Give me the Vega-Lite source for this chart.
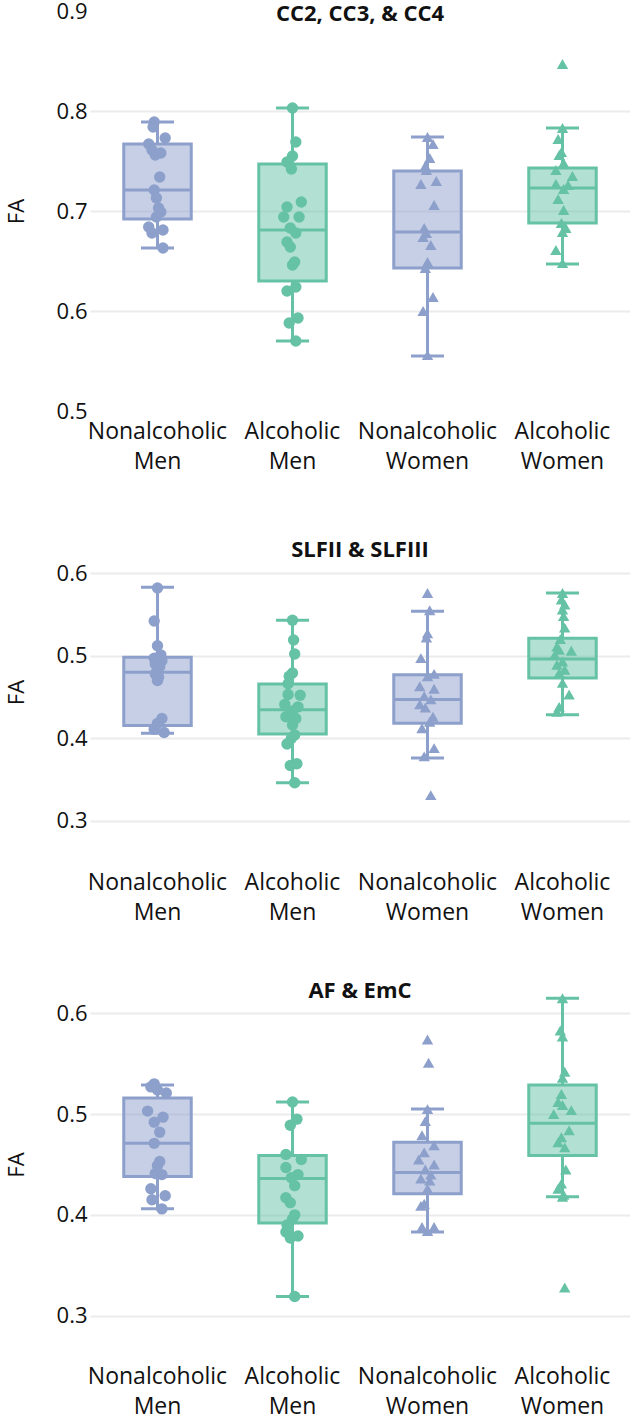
{
  "$schema": "https://vega.github.io/schema/vega-lite/v6.json",
  "background": "white",
  "padding": {"left": 5, "top": 0, "right": 0, "bottom": 12},
  "spacing": 111,
  "bounds": "flush",
  "datasets": {
    "box": [
      {"p": 1, "g": "Nonalcoholic Men", "lo": 0.663, "q1": 0.692, "med": 0.721, "q3": 0.767, "hi": 0.789},
      {"p": 1, "g": "Alcoholic Men", "lo": 0.570, "q1": 0.630, "med": 0.681, "q3": 0.747, "hi": 0.803},
      {"p": 1, "g": "Nonalcoholic Women", "lo": 0.555, "q1": 0.643, "med": 0.679, "q3": 0.740, "hi": 0.774},
      {"p": 1, "g": "Alcoholic Women", "lo": 0.647, "q1": 0.688, "med": 0.723, "q3": 0.743, "hi": 0.783},
      {"p": 2, "g": "Nonalcoholic Men", "lo": 0.406, "q1": 0.4155, "med": 0.480, "q3": 0.498, "hi": 0.583},
      {"p": 2, "g": "Alcoholic Men", "lo": 0.346, "q1": 0.405, "med": 0.4345, "q3": 0.4656, "hi": 0.543},
      {"p": 2, "g": "Nonalcoholic Women", "lo": 0.376, "q1": 0.418, "med": 0.447, "q3": 0.477, "hi": 0.554},
      {"p": 2, "g": "Alcoholic Women", "lo": 0.4285, "q1": 0.473, "med": 0.496, "q3": 0.521, "hi": 0.576},
      {"p": 3, "g": "Nonalcoholic Men", "lo": 0.406, "q1": 0.438, "med": 0.471, "q3": 0.516, "hi": 0.529},
      {"p": 3, "g": "Alcoholic Men", "lo": 0.319, "q1": 0.392, "med": 0.436, "q3": 0.459, "hi": 0.512},
      {"p": 3, "g": "Nonalcoholic Women", "lo": 0.383, "q1": 0.421, "med": 0.442, "q3": 0.472, "hi": 0.505},
      {"p": 3, "g": "Alcoholic Women", "lo": 0.418, "q1": 0.459, "med": 0.491, "q3": 0.529, "hi": 0.615}
    ],
    "pts": [
      {"p":1,"g":"Nonalcoholic Men","fa":0.789,"j":-0.3},{"p":1,"g":"Nonalcoholic Men","fa":0.784,"j":-0.4},{"p":1,"g":"Nonalcoholic Men","fa":0.773,"j":0.7},{"p":1,"g":"Nonalcoholic Men","fa":0.767,"j":-0.8},{"p":1,"g":"Nonalcoholic Men","fa":0.761,"j":-0.5},{"p":1,"g":"Nonalcoholic Men","fa":0.758,"j":0.3},{"p":1,"g":"Nonalcoholic Men","fa":0.756,"j":-0.2},{"p":1,"g":"Nonalcoholic Men","fa":0.734,"j":0.2},{"p":1,"g":"Nonalcoholic Men","fa":0.721,"j":-0.3},{"p":1,"g":"Nonalcoholic Men","fa":0.713,"j":-0.1},{"p":1,"g":"Nonalcoholic Men","fa":0.703,"j":0.1},{"p":1,"g":"Nonalcoholic Men","fa":0.699,"j":0.3},{"p":1,"g":"Nonalcoholic Men","fa":0.694,"j":-0.1},{"p":1,"g":"Nonalcoholic Men","fa":0.684,"j":-0.8},{"p":1,"g":"Nonalcoholic Men","fa":0.681,"j":0.5},{"p":1,"g":"Nonalcoholic Men","fa":0.678,"j":-0.5},{"p":1,"g":"Nonalcoholic Men","fa":0.663,"j":0.5},
      {"p":1,"g":"Alcoholic Men","fa":0.803,"j":0.0},{"p":1,"g":"Alcoholic Men","fa":0.769,"j":0.3},{"p":1,"g":"Alcoholic Men","fa":0.755,"j":0.0},{"p":1,"g":"Alcoholic Men","fa":0.749,"j":-0.5},{"p":1,"g":"Alcoholic Men","fa":0.742,"j":-0.1},{"p":1,"g":"Alcoholic Men","fa":0.709,"j":0.8},{"p":1,"g":"Alcoholic Men","fa":0.704,"j":-0.5},{"p":1,"g":"Alcoholic Men","fa":0.694,"j":-0.8},{"p":1,"g":"Alcoholic Men","fa":0.694,"j":0.6},{"p":1,"g":"Alcoholic Men","fa":0.683,"j":-0.2},{"p":1,"g":"Alcoholic Men","fa":0.678,"j":0.3},{"p":1,"g":"Alcoholic Men","fa":0.669,"j":-0.5},{"p":1,"g":"Alcoholic Men","fa":0.664,"j":-0.2},{"p":1,"g":"Alcoholic Men","fa":0.649,"j":0.2},{"p":1,"g":"Alcoholic Men","fa":0.646,"j":0.0},{"p":1,"g":"Alcoholic Men","fa":0.624,"j":0.3},{"p":1,"g":"Alcoholic Men","fa":0.620,"j":-0.5},{"p":1,"g":"Alcoholic Men","fa":0.593,"j":0.5},{"p":1,"g":"Alcoholic Men","fa":0.588,"j":-0.3},{"p":1,"g":"Alcoholic Men","fa":0.570,"j":0.3},
      {"p":1,"g":"Nonalcoholic Women","fa":0.774,"j":0.0},{"p":1,"g":"Nonalcoholic Women","fa":0.767,"j":0.5},{"p":1,"g":"Nonalcoholic Women","fa":0.753,"j":0.2},{"p":1,"g":"Nonalcoholic Women","fa":0.745,"j":-0.2},{"p":1,"g":"Nonalcoholic Women","fa":0.741,"j":-0.1},{"p":1,"g":"Nonalcoholic Women","fa":0.730,"j":0.8},{"p":1,"g":"Nonalcoholic Women","fa":0.727,"j":-0.6},{"p":1,"g":"Nonalcoholic Women","fa":0.706,"j":0.6},{"p":1,"g":"Nonalcoholic Women","fa":0.683,"j":-0.3},{"p":1,"g":"Nonalcoholic Women","fa":0.678,"j":-0.1},{"p":1,"g":"Nonalcoholic Women","fa":0.674,"j":-0.4},{"p":1,"g":"Nonalcoholic Women","fa":0.666,"j":0.3},{"p":1,"g":"Nonalcoholic Women","fa":0.649,"j":0.0},{"p":1,"g":"Nonalcoholic Women","fa":0.643,"j":-0.2},{"p":1,"g":"Nonalcoholic Women","fa":0.614,"j":0.5},{"p":1,"g":"Nonalcoholic Women","fa":0.600,"j":-0.4},{"p":1,"g":"Nonalcoholic Women","fa":0.556,"j":0.0},
      {"p":1,"g":"Alcoholic Women","fa":0.847,"j":0.0},{"p":1,"g":"Alcoholic Women","fa":0.783,"j":0.0},{"p":1,"g":"Alcoholic Women","fa":0.772,"j":-0.4},{"p":1,"g":"Alcoholic Women","fa":0.759,"j":-0.1},{"p":1,"g":"Alcoholic Women","fa":0.756,"j":-0.3},{"p":1,"g":"Alcoholic Women","fa":0.748,"j":0.1},{"p":1,"g":"Alcoholic Women","fa":0.741,"j":-0.6},{"p":1,"g":"Alcoholic Women","fa":0.735,"j":0.9},{"p":1,"g":"Alcoholic Women","fa":0.727,"j":-0.6},{"p":1,"g":"Alcoholic Women","fa":0.726,"j":0.5},{"p":1,"g":"Alcoholic Women","fa":0.722,"j":0.1},{"p":1,"g":"Alcoholic Women","fa":0.712,"j":-0.4},{"p":1,"g":"Alcoholic Women","fa":0.701,"j":0.1},{"p":1,"g":"Alcoholic Women","fa":0.688,"j":-0.1},{"p":1,"g":"Alcoholic Women","fa":0.683,"j":0.3},{"p":1,"g":"Alcoholic Women","fa":0.679,"j":0.0},{"p":1,"g":"Alcoholic Women","fa":0.661,"j":-0.6},{"p":1,"g":"Alcoholic Women","fa":0.648,"j":0.0},
      {"p":2,"g":"Nonalcoholic Men","fa":0.582,"j":0.0},{"p":2,"g":"Nonalcoholic Men","fa":0.542,"j":-0.3},{"p":2,"g":"Nonalcoholic Men","fa":0.512,"j":0.0},{"p":2,"g":"Nonalcoholic Men","fa":0.501,"j":0.3},{"p":2,"g":"Nonalcoholic Men","fa":0.497,"j":-0.3},{"p":2,"g":"Nonalcoholic Men","fa":0.494,"j":0.4},{"p":2,"g":"Nonalcoholic Men","fa":0.490,"j":-0.2},{"p":2,"g":"Nonalcoholic Men","fa":0.487,"j":0.2},{"p":2,"g":"Nonalcoholic Men","fa":0.483,"j":0.0},{"p":2,"g":"Nonalcoholic Men","fa":0.478,"j":-0.2},{"p":2,"g":"Nonalcoholic Men","fa":0.474,"j":0.1},{"p":2,"g":"Nonalcoholic Men","fa":0.470,"j":0.0},{"p":2,"g":"Nonalcoholic Men","fa":0.424,"j":0.4},{"p":2,"g":"Nonalcoholic Men","fa":0.418,"j":0.0},{"p":2,"g":"Nonalcoholic Men","fa":0.411,"j":-0.3},{"p":2,"g":"Nonalcoholic Men","fa":0.407,"j":0.6},
      {"p":2,"g":"Alcoholic Men","fa":0.543,"j":0.0},{"p":2,"g":"Alcoholic Men","fa":0.519,"j":0.1},{"p":2,"g":"Alcoholic Men","fa":0.502,"j":0.2},{"p":2,"g":"Alcoholic Men","fa":0.479,"j":0.0},{"p":2,"g":"Alcoholic Men","fa":0.475,"j":-0.3},{"p":2,"g":"Alcoholic Men","fa":0.466,"j":-0.4},{"p":2,"g":"Alcoholic Men","fa":0.453,"j":-0.4},{"p":2,"g":"Alcoholic Men","fa":0.452,"j":0.7},{"p":2,"g":"Alcoholic Men","fa":0.441,"j":-0.7},{"p":2,"g":"Alcoholic Men","fa":0.438,"j":0.5},{"p":2,"g":"Alcoholic Men","fa":0.433,"j":0.0},{"p":2,"g":"Alcoholic Men","fa":0.426,"j":-0.6},{"p":2,"g":"Alcoholic Men","fa":0.424,"j":0.3},{"p":2,"g":"Alcoholic Men","fa":0.416,"j":0.0},{"p":2,"g":"Alcoholic Men","fa":0.404,"j":0.2},{"p":2,"g":"Alcoholic Men","fa":0.400,"j":-0.1},{"p":2,"g":"Alcoholic Men","fa":0.393,"j":-0.5},{"p":2,"g":"Alcoholic Men","fa":0.369,"j":0.4},{"p":2,"g":"Alcoholic Men","fa":0.367,"j":-0.2},{"p":2,"g":"Alcoholic Men","fa":0.346,"j":0.2},
      {"p":2,"g":"Nonalcoholic Women","fa":0.576,"j":0.0},{"p":2,"g":"Nonalcoholic Women","fa":0.555,"j":0.2},{"p":2,"g":"Nonalcoholic Women","fa":0.527,"j":0.0},{"p":2,"g":"Nonalcoholic Women","fa":0.522,"j":-0.1},{"p":2,"g":"Nonalcoholic Women","fa":0.497,"j":-0.6},{"p":2,"g":"Nonalcoholic Women","fa":0.478,"j":0.6},{"p":2,"g":"Nonalcoholic Women","fa":0.475,"j":0.0},{"p":2,"g":"Nonalcoholic Women","fa":0.463,"j":-0.7},{"p":2,"g":"Nonalcoholic Women","fa":0.460,"j":0.6},{"p":2,"g":"Nonalcoholic Women","fa":0.451,"j":-0.3},{"p":2,"g":"Nonalcoholic Women","fa":0.447,"j":0.3},{"p":2,"g":"Nonalcoholic Women","fa":0.441,"j":-0.7},{"p":2,"g":"Nonalcoholic Women","fa":0.437,"j":-0.2},{"p":2,"g":"Nonalcoholic Women","fa":0.426,"j":0.5},{"p":2,"g":"Nonalcoholic Women","fa":0.420,"j":0.2},{"p":2,"g":"Nonalcoholic Women","fa":0.412,"j":-0.5},{"p":2,"g":"Nonalcoholic Women","fa":0.388,"j":0.6},{"p":2,"g":"Nonalcoholic Women","fa":0.378,"j":-0.3},{"p":2,"g":"Nonalcoholic Women","fa":0.331,"j":0.3},
      {"p":2,"g":"Alcoholic Women","fa":0.576,"j":0.0},{"p":2,"g":"Alcoholic Women","fa":0.568,"j":-0.1},{"p":2,"g":"Alcoholic Women","fa":0.562,"j":0.2},{"p":2,"g":"Alcoholic Women","fa":0.556,"j":0.0},{"p":2,"g":"Alcoholic Women","fa":0.548,"j":0.1},{"p":2,"g":"Alcoholic Women","fa":0.534,"j":0.2},{"p":2,"g":"Alcoholic Women","fa":0.520,"j":-0.2},{"p":2,"g":"Alcoholic Women","fa":0.511,"j":-0.5},{"p":2,"g":"Alcoholic Women","fa":0.507,"j":-0.3},{"p":2,"g":"Alcoholic Women","fa":0.506,"j":0.8},{"p":2,"g":"Alcoholic Women","fa":0.501,"j":-0.7},{"p":2,"g":"Alcoholic Women","fa":0.493,"j":0.0},{"p":2,"g":"Alcoholic Women","fa":0.489,"j":-0.5},{"p":2,"g":"Alcoholic Women","fa":0.483,"j":0.2},{"p":2,"g":"Alcoholic Women","fa":0.479,"j":-0.3},{"p":2,"g":"Alcoholic Women","fa":0.467,"j":0.0},{"p":2,"g":"Alcoholic Women","fa":0.453,"j":0.6},{"p":2,"g":"Alcoholic Women","fa":0.438,"j":-0.3},{"p":2,"g":"Alcoholic Women","fa":0.432,"j":-0.5},
      {"p":3,"g":"Nonalcoholic Men","fa":0.530,"j":-0.3},{"p":3,"g":"Nonalcoholic Men","fa":0.527,"j":-0.6},{"p":3,"g":"Nonalcoholic Men","fa":0.524,"j":0.0},{"p":3,"g":"Nonalcoholic Men","fa":0.521,"j":0.8},{"p":3,"g":"Nonalcoholic Men","fa":0.503,"j":-0.9},{"p":3,"g":"Nonalcoholic Men","fa":0.497,"j":0.5},{"p":3,"g":"Nonalcoholic Men","fa":0.492,"j":-0.3},{"p":3,"g":"Nonalcoholic Men","fa":0.482,"j":0.2},{"p":3,"g":"Nonalcoholic Men","fa":0.471,"j":-0.3},{"p":3,"g":"Nonalcoholic Men","fa":0.453,"j":0.2},{"p":3,"g":"Nonalcoholic Men","fa":0.449,"j":0.0},{"p":3,"g":"Nonalcoholic Men","fa":0.441,"j":-0.2},{"p":3,"g":"Nonalcoholic Men","fa":0.440,"j":0.4},{"p":3,"g":"Nonalcoholic Men","fa":0.426,"j":-0.6},{"p":3,"g":"Nonalcoholic Men","fa":0.419,"j":0.7},{"p":3,"g":"Nonalcoholic Men","fa":0.415,"j":-0.5},{"p":3,"g":"Nonalcoholic Men","fa":0.406,"j":0.4},
      {"p":3,"g":"Alcoholic Men","fa":0.512,"j":0.0},{"p":3,"g":"Alcoholic Men","fa":0.495,"j":0.4},{"p":3,"g":"Alcoholic Men","fa":0.489,"j":-0.2},{"p":3,"g":"Alcoholic Men","fa":0.460,"j":-0.6},{"p":3,"g":"Alcoholic Men","fa":0.455,"j":0.8},{"p":3,"g":"Alcoholic Men","fa":0.447,"j":-0.6},{"p":3,"g":"Alcoholic Men","fa":0.440,"j":0.5},{"p":3,"g":"Alcoholic Men","fa":0.437,"j":-0.1},{"p":3,"g":"Alcoholic Men","fa":0.429,"j":0.2},{"p":3,"g":"Alcoholic Men","fa":0.417,"j":-0.6},{"p":3,"g":"Alcoholic Men","fa":0.412,"j":-0.2},{"p":3,"g":"Alcoholic Men","fa":0.400,"j":0.2},{"p":3,"g":"Alcoholic Men","fa":0.396,"j":0.0},{"p":3,"g":"Alcoholic Men","fa":0.390,"j":-0.5},{"p":3,"g":"Alcoholic Men","fa":0.383,"j":-0.6},{"p":3,"g":"Alcoholic Men","fa":0.379,"j":0.5},{"p":3,"g":"Alcoholic Men","fa":0.377,"j":-0.2},{"p":3,"g":"Alcoholic Men","fa":0.319,"j":0.2},
      {"p":3,"g":"Nonalcoholic Women","fa":0.574,"j":0.0},{"p":3,"g":"Nonalcoholic Women","fa":0.551,"j":0.1},{"p":3,"g":"Nonalcoholic Women","fa":0.505,"j":0.0},{"p":3,"g":"Nonalcoholic Women","fa":0.493,"j":-0.2},{"p":3,"g":"Nonalcoholic Women","fa":0.479,"j":-0.5},{"p":3,"g":"Nonalcoholic Women","fa":0.469,"j":0.6},{"p":3,"g":"Nonalcoholic Women","fa":0.462,"j":-0.3},{"p":3,"g":"Nonalcoholic Women","fa":0.455,"j":-0.8},{"p":3,"g":"Nonalcoholic Women","fa":0.450,"j":0.6},{"p":3,"g":"Nonalcoholic Women","fa":0.445,"j":-0.2},{"p":3,"g":"Nonalcoholic Women","fa":0.440,"j":0.3},{"p":3,"g":"Nonalcoholic Women","fa":0.436,"j":-0.6},{"p":3,"g":"Nonalcoholic Women","fa":0.434,"j":0.2},{"p":3,"g":"Nonalcoholic Women","fa":0.426,"j":0.0},{"p":3,"g":"Nonalcoholic Women","fa":0.411,"j":-0.3},{"p":3,"g":"Nonalcoholic Women","fa":0.409,"j":-0.6},{"p":3,"g":"Nonalcoholic Women","fa":0.388,"j":-0.5},{"p":3,"g":"Nonalcoholic Women","fa":0.388,"j":0.6},{"p":3,"g":"Nonalcoholic Women","fa":0.384,"j":0.0},
      {"p":3,"g":"Alcoholic Women","fa":0.615,"j":0.0},{"p":3,"g":"Alcoholic Women","fa":0.583,"j":-0.2},{"p":3,"g":"Alcoholic Women","fa":0.577,"j":0.0},{"p":3,"g":"Alcoholic Women","fa":0.542,"j":0.2},{"p":3,"g":"Alcoholic Women","fa":0.536,"j":0.0},{"p":3,"g":"Alcoholic Women","fa":0.520,"j":-0.1},{"p":3,"g":"Alcoholic Women","fa":0.512,"j":-0.4},{"p":3,"g":"Alcoholic Women","fa":0.509,"j":0.0},{"p":3,"g":"Alcoholic Women","fa":0.504,"j":0.8},{"p":3,"g":"Alcoholic Women","fa":0.500,"j":-0.8},{"p":3,"g":"Alcoholic Women","fa":0.484,"j":0.6},{"p":3,"g":"Alcoholic Women","fa":0.477,"j":-0.1},{"p":3,"g":"Alcoholic Women","fa":0.472,"j":-0.4},{"p":3,"g":"Alcoholic Women","fa":0.467,"j":0.2},{"p":3,"g":"Alcoholic Women","fa":0.445,"j":0.3},{"p":3,"g":"Alcoholic Women","fa":0.431,"j":-0.1},{"p":3,"g":"Alcoholic Women","fa":0.426,"j":-0.4},{"p":3,"g":"Alcoholic Women","fa":0.420,"j":0.1},{"p":3,"g":"Alcoholic Women","fa":0.418,"j":0.0},{"p":3,"g":"Alcoholic Women","fa":0.328,"j":0.2}
    ]
  },
  "vconcat": [
    {
      "width": 540, "height": 400,
      "title": {"text": "CC2, CC3, & CC4", "offset": -26},
      "encoding": {"x": {"field": "g", "type": "nominal", "title": null, "scale": {"domain": ["Nonalcoholic Men", "Alcoholic Men", "Nonalcoholic Women", "Alcoholic Women"], "paddingInner": 0, "paddingOuter": 0}}},
      "layer": [
        {"data": {"name": "box"}, "transform": [{"filter": "datum.p == 1"}], "mark": {"type": "rule", "strokeWidth": 3},
         "encoding": {"y": {"field": "lo", "type": "quantitative", "title": "FA", "scale": {"domain": [0.5, 0.9], "nice": false, "zero": false}, "axis": {"values": [0.5, 0.6, 0.7, 0.8, 0.9], "format": ".1f", "gridOpacity": {"condition": {"test": "datum.value < 0.55 || datum.value > 0.85", "value": 0}, "value": 1}}}, "y2": {"field": "q1"},
           "color": {"field": "g", "type": "nominal", "scale": {"domain": ["Nonalcoholic Men", "Alcoholic Men", "Nonalcoholic Women", "Alcoholic Women"], "range": ["#8da0cb", "#66c2a5", "#8da0cb", "#66c2a5"]}, "legend": null}}},
        {"data": {"name": "box"}, "transform": [{"filter": "datum.p == 1"}], "mark": {"type": "rule", "strokeWidth": 3},
         "encoding": {"y": {"field": "q3", "type": "quantitative", "title": "FA"}, "y2": {"field": "hi"}, "color": {"field": "g", "type": "nominal", "legend": null}}},
        {"data": {"name": "box"}, "transform": [{"filter": "datum.p == 1"}], "mark": {"type": "tick", "size": 33, "thickness": 3, "opacity": 1},
         "encoding": {"y": {"field": "lo", "type": "quantitative", "title": "FA"}, "color": {"field": "g", "type": "nominal", "legend": null}}},
        {"data": {"name": "box"}, "transform": [{"filter": "datum.p == 1"}], "mark": {"type": "tick", "size": 33, "thickness": 3, "opacity": 1},
         "encoding": {"y": {"field": "hi", "type": "quantitative", "title": "FA"}, "color": {"field": "g", "type": "nominal", "legend": null}}},
        {"data": {"name": "box"}, "transform": [{"filter": "datum.p == 1"}], "mark": {"type": "bar", "width": 67.5, "fillOpacity": 0.5, "strokeWidth": 3},
         "encoding": {"y": {"field": "q1", "type": "quantitative", "title": "FA"}, "y2": {"field": "q3"}, "color": {"field": "g", "type": "nominal", "legend": null},
           "stroke": {"field": "g", "type": "nominal", "scale": {"domain": ["Nonalcoholic Men", "Alcoholic Men", "Nonalcoholic Women", "Alcoholic Women"], "range": ["#8da0cb", "#66c2a5", "#8da0cb", "#66c2a5"]}, "legend": null}}},
        {"data": {"name": "box"}, "transform": [{"filter": "datum.p == 1"}], "mark": {"type": "tick", "size": 67, "thickness": 3, "opacity": 1},
         "encoding": {"y": {"field": "med", "type": "quantitative", "title": "FA"}, "color": {"field": "g", "type": "nominal", "legend": null}}},
        {"data": {"name": "pts"}, "transform": [{"filter": "datum.p == 1"}], "mark": {"type": "point", "filled": true, "opacity": 1},
         "encoding": {"y": {"field": "fa", "type": "quantitative", "title": "FA"},
           "xOffset": {"field": "j", "type": "quantitative", "scale": {"domain": [-1, 1], "range": [56.5, 78.5]}},
           "color": {"field": "g", "type": "nominal", "legend": null},
           "size": {"field": "g", "type": "nominal", "scale": {"domain": ["Nonalcoholic Men", "Alcoholic Men", "Nonalcoholic Women", "Alcoholic Women"], "range": [130, 130, 175, 175]}, "legend": null},
           "shape": {"field": "g", "type": "nominal", "scale": {"domain": ["Nonalcoholic Men", "Alcoholic Men", "Nonalcoholic Women", "Alcoholic Women"], "range": ["circle", "circle", "triangle-up", "triangle-up"]}, "legend": null}}}
      ]
    },
    {
      "width": 540, "height": 340,
      "title": {"text": "SLFII & SLFIII", "offset": -40},
      "encoding": {"x": {"field": "g", "type": "nominal", "title": null, "scale": {"domain": ["Nonalcoholic Men", "Alcoholic Men", "Nonalcoholic Women", "Alcoholic Women"], "paddingInner": 0, "paddingOuter": 0}}},
      "layer": [
        {"data": {"name": "box"}, "transform": [{"filter": "datum.p == 2"}], "mark": {"type": "rule", "strokeWidth": 3},
         "encoding": {"y": {"field": "lo", "type": "quantitative", "title": "FA", "scale": {"domain": [0.25, 0.662], "nice": false, "zero": false}, "axis": {"values": [0.3, 0.4, 0.5, 0.6], "format": ".1f"}}, "y2": {"field": "q1"},
           "color": {"field": "g", "type": "nominal", "scale": {"domain": ["Nonalcoholic Men", "Alcoholic Men", "Nonalcoholic Women", "Alcoholic Women"], "range": ["#8da0cb", "#66c2a5", "#8da0cb", "#66c2a5"]}, "legend": null}}},
        {"data": {"name": "box"}, "transform": [{"filter": "datum.p == 2"}], "mark": {"type": "rule", "strokeWidth": 3},
         "encoding": {"y": {"field": "q3", "type": "quantitative", "title": "FA"}, "y2": {"field": "hi"}, "color": {"field": "g", "type": "nominal", "legend": null}}},
        {"data": {"name": "box"}, "transform": [{"filter": "datum.p == 2"}], "mark": {"type": "tick", "size": 33, "thickness": 3, "opacity": 1},
         "encoding": {"y": {"field": "lo", "type": "quantitative", "title": "FA"}, "color": {"field": "g", "type": "nominal", "legend": null}}},
        {"data": {"name": "box"}, "transform": [{"filter": "datum.p == 2"}], "mark": {"type": "tick", "size": 33, "thickness": 3, "opacity": 1},
         "encoding": {"y": {"field": "hi", "type": "quantitative", "title": "FA"}, "color": {"field": "g", "type": "nominal", "legend": null}}},
        {"data": {"name": "box"}, "transform": [{"filter": "datum.p == 2"}], "mark": {"type": "bar", "width": 67.5, "fillOpacity": 0.5, "strokeWidth": 3},
         "encoding": {"y": {"field": "q1", "type": "quantitative", "title": "FA"}, "y2": {"field": "q3"}, "color": {"field": "g", "type": "nominal", "legend": null},
           "stroke": {"field": "g", "type": "nominal", "scale": {"domain": ["Nonalcoholic Men", "Alcoholic Men", "Nonalcoholic Women", "Alcoholic Women"], "range": ["#8da0cb", "#66c2a5", "#8da0cb", "#66c2a5"]}, "legend": null}}},
        {"data": {"name": "box"}, "transform": [{"filter": "datum.p == 2"}], "mark": {"type": "tick", "size": 67, "thickness": 3, "opacity": 1},
         "encoding": {"y": {"field": "med", "type": "quantitative", "title": "FA"}, "color": {"field": "g", "type": "nominal", "legend": null}}},
        {"data": {"name": "pts"}, "transform": [{"filter": "datum.p == 2"}], "mark": {"type": "point", "filled": true, "opacity": 1},
         "encoding": {"y": {"field": "fa", "type": "quantitative", "title": "FA"},
           "xOffset": {"field": "j", "type": "quantitative", "scale": {"domain": [-1, 1], "range": [56.5, 78.5]}},
           "color": {"field": "g", "type": "nominal", "legend": null},
           "size": {"field": "g", "type": "nominal", "scale": {"domain": ["Nonalcoholic Men", "Alcoholic Men", "Nonalcoholic Women", "Alcoholic Women"], "range": [130, 130, 175, 175]}, "legend": null},
           "shape": {"field": "g", "type": "nominal", "scale": {"domain": ["Nonalcoholic Men", "Alcoholic Men", "Nonalcoholic Women", "Alcoholic Women"], "range": ["circle", "circle", "triangle-up", "triangle-up"]}, "legend": null}}}
      ]
    },
    {
      "width": 540, "height": 383,
      "title": {"text": "AF & EmC", "offset": -30},
      "encoding": {"x": {"field": "g", "type": "nominal", "title": null, "scale": {"domain": ["Nonalcoholic Men", "Alcoholic Men", "Nonalcoholic Women", "Alcoholic Women"], "paddingInner": 0, "paddingOuter": 0}}},
      "layer": [
        {"data": {"name": "box"}, "transform": [{"filter": "datum.p == 3"}], "mark": {"type": "rule", "strokeWidth": 3},
         "encoding": {"y": {"field": "lo", "type": "quantitative", "title": "FA", "scale": {"domain": [0.26, 0.64], "nice": false, "zero": false}, "axis": {"values": [0.3, 0.4, 0.5, 0.6], "format": ".1f"}}, "y2": {"field": "q1"},
           "color": {"field": "g", "type": "nominal", "scale": {"domain": ["Nonalcoholic Men", "Alcoholic Men", "Nonalcoholic Women", "Alcoholic Women"], "range": ["#8da0cb", "#66c2a5", "#8da0cb", "#66c2a5"]}, "legend": null}}},
        {"data": {"name": "box"}, "transform": [{"filter": "datum.p == 3"}], "mark": {"type": "rule", "strokeWidth": 3},
         "encoding": {"y": {"field": "q3", "type": "quantitative", "title": "FA"}, "y2": {"field": "hi"}, "color": {"field": "g", "type": "nominal", "legend": null}}},
        {"data": {"name": "box"}, "transform": [{"filter": "datum.p == 3"}], "mark": {"type": "tick", "size": 33, "thickness": 3, "opacity": 1},
         "encoding": {"y": {"field": "lo", "type": "quantitative", "title": "FA"}, "color": {"field": "g", "type": "nominal", "legend": null}}},
        {"data": {"name": "box"}, "transform": [{"filter": "datum.p == 3"}], "mark": {"type": "tick", "size": 33, "thickness": 3, "opacity": 1},
         "encoding": {"y": {"field": "hi", "type": "quantitative", "title": "FA"}, "color": {"field": "g", "type": "nominal", "legend": null}}},
        {"data": {"name": "box"}, "transform": [{"filter": "datum.p == 3"}], "mark": {"type": "bar", "width": 67.5, "fillOpacity": 0.5, "strokeWidth": 3},
         "encoding": {"y": {"field": "q1", "type": "quantitative", "title": "FA"}, "y2": {"field": "q3"}, "color": {"field": "g", "type": "nominal", "legend": null},
           "stroke": {"field": "g", "type": "nominal", "scale": {"domain": ["Nonalcoholic Men", "Alcoholic Men", "Nonalcoholic Women", "Alcoholic Women"], "range": ["#8da0cb", "#66c2a5", "#8da0cb", "#66c2a5"]}, "legend": null}}},
        {"data": {"name": "box"}, "transform": [{"filter": "datum.p == 3"}], "mark": {"type": "tick", "size": 67, "thickness": 3, "opacity": 1},
         "encoding": {"y": {"field": "med", "type": "quantitative", "title": "FA"}, "color": {"field": "g", "type": "nominal", "legend": null}}},
        {"data": {"name": "pts"}, "transform": [{"filter": "datum.p == 3"}], "mark": {"type": "point", "filled": true, "opacity": 1},
         "encoding": {"y": {"field": "fa", "type": "quantitative", "title": "FA"},
           "xOffset": {"field": "j", "type": "quantitative", "scale": {"domain": [-1, 1], "range": [56.5, 78.5]}},
           "color": {"field": "g", "type": "nominal", "legend": null},
           "size": {"field": "g", "type": "nominal", "scale": {"domain": ["Nonalcoholic Men", "Alcoholic Men", "Nonalcoholic Women", "Alcoholic Women"], "range": [130, 130, 175, 175]}, "legend": null},
           "shape": {"field": "g", "type": "nominal", "scale": {"domain": ["Nonalcoholic Men", "Alcoholic Men", "Nonalcoholic Women", "Alcoholic Women"], "range": ["circle", "circle", "triangle-up", "triangle-up"]}, "legend": null}}}
      ]
    }
  ],
  "config": {
    "view": {"stroke": null},
    "font": "Open Sans",
    "title": {"font": "Open Sans", "fontSize": 22, "fontWeight": "bold", "color": "#111111", "anchor": "middle", "frame": "group", "baseline": "middle"},
    "axisX": {"labelFont": "Open Sans", "labelFontSize": 23, "labelColor": "#111111", "labelAngle": 0, "labelExpr": "split(datum.label, ' ')", "labelLineHeight": 30, "labelPadding": 9, "ticks": false, "tickSize": 0, "domain": false, "grid": false, "labelLimit": 0},
    "axisY": {"labelFont": "Open Sans", "labelFontSize": 22, "labelColor": "#111111", "labelPadding": 3, "ticks": false, "tickSize": 0, "domain": false, "grid": true, "gridColor": "#ebebeb", "gridWidth": 2, "titleFont": "Open Sans", "titleFontSize": 22, "titleFontWeight": "normal", "titleColor": "#111111", "titlePadding": 28, "labelFlush": false, "labelOverlap": false}
  }
}
